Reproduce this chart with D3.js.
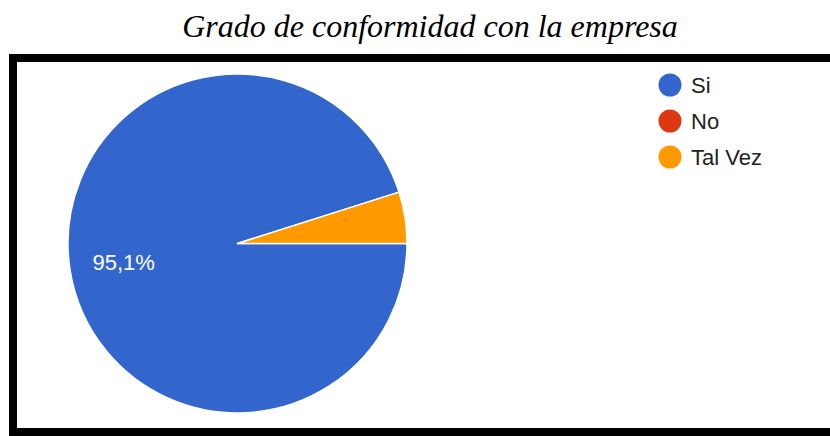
<!DOCTYPE html>
<html>
<head>
<meta charset="utf-8">
<script src="https://cdn.jsdelivr.net/npm/d3@7"></script>
<style>
  html, body { margin: 0; padding: 0; background: #fff; }
  svg { display: block; }
</style>
</head>
<body>
<svg id="chart" width="830" height="436"></svg>
<script>
// Survey answers and their share of responses (percent)
const categories = ["Si", "No", "Tal Vez"];
const values = [95.1, 0, 4.9];
const colors = ["#3366cc", "#dc3912", "#ff9900"];
const title = "Grado de conformidad con la empresa";

const svg = d3.select("#chart");

// Title
svg.append("text")
  .attr("x", 430)
  .attr("y", 37)
  .attr("text-anchor", "middle")
  .attr("font-family", "'Liberation Serif', 'Times New Roman', serif")
  .attr("font-style", "italic")
  .attr("font-size", 32)
  .attr("fill", "#000")
  .text(title);

// Thick frame around the chart area
svg.append("rect")
  .attr("x", 13)
  .attr("y", 58)
  .attr("width", 830)
  .attr("height", 374)
  .attr("fill", "#fff")
  .attr("stroke", "#000")
  .attr("stroke-width", 8);

// Pie
const cx = 237.5, cy = 243.5, r = 169.5;
const pie = d3.pie()
  .value(d => d.value)
  .sort(null)
  .startAngle(Math.PI / 2)
  .endAngle(Math.PI / 2 + 2 * Math.PI);
const data = categories.map((c, i) => ({ name: c, value: values[i], color: colors[i] }));
const arcs = pie(data);
const arc = d3.arc().innerRadius(0).outerRadius(r);

const g = svg.append("g").attr("transform", `translate(${cx},${cy})`);
g.selectAll("path")
  .data(arcs.filter(a => a.data.value > 0))
  .join("path")
  .attr("d", arc)
  .attr("fill", d => d.data.color)
  .attr("stroke", "#fff")
  .attr("stroke-width", 1.5)
  .attr("stroke-linejoin", "round");

// Percentage label on the main slice
const main = arcs[0];
const fmt = v => d3.format(".1f")(v).replace(".", ",") + "%";
g.append("text")
  .attr("x", -145)
  .attr("y", 26)
  .attr("font-family", "Arial, 'Liberation Sans', sans-serif")
  .attr("font-size", 22)
  .attr("fill", "#fff")
  .text(fmt(main.data.value));

// Legend
const legend = svg.append("g").attr("transform", "translate(670,85)");
const items = legend.selectAll("g")
  .data(data)
  .join("g")
  .attr("transform", (d, i) => `translate(0,${i * 36})`);
items.append("circle")
  .attr("r", 11.5)
  .attr("fill", d => d.color);
items.append("text")
  .attr("x", 21)
  .attr("y", 8)
  .attr("font-family", "Arial, 'Liberation Sans', sans-serif")
  .attr("font-size", 22)
  .attr("fill", "#222")
  .text(d => d.name);
</script>
</body>
</html>
